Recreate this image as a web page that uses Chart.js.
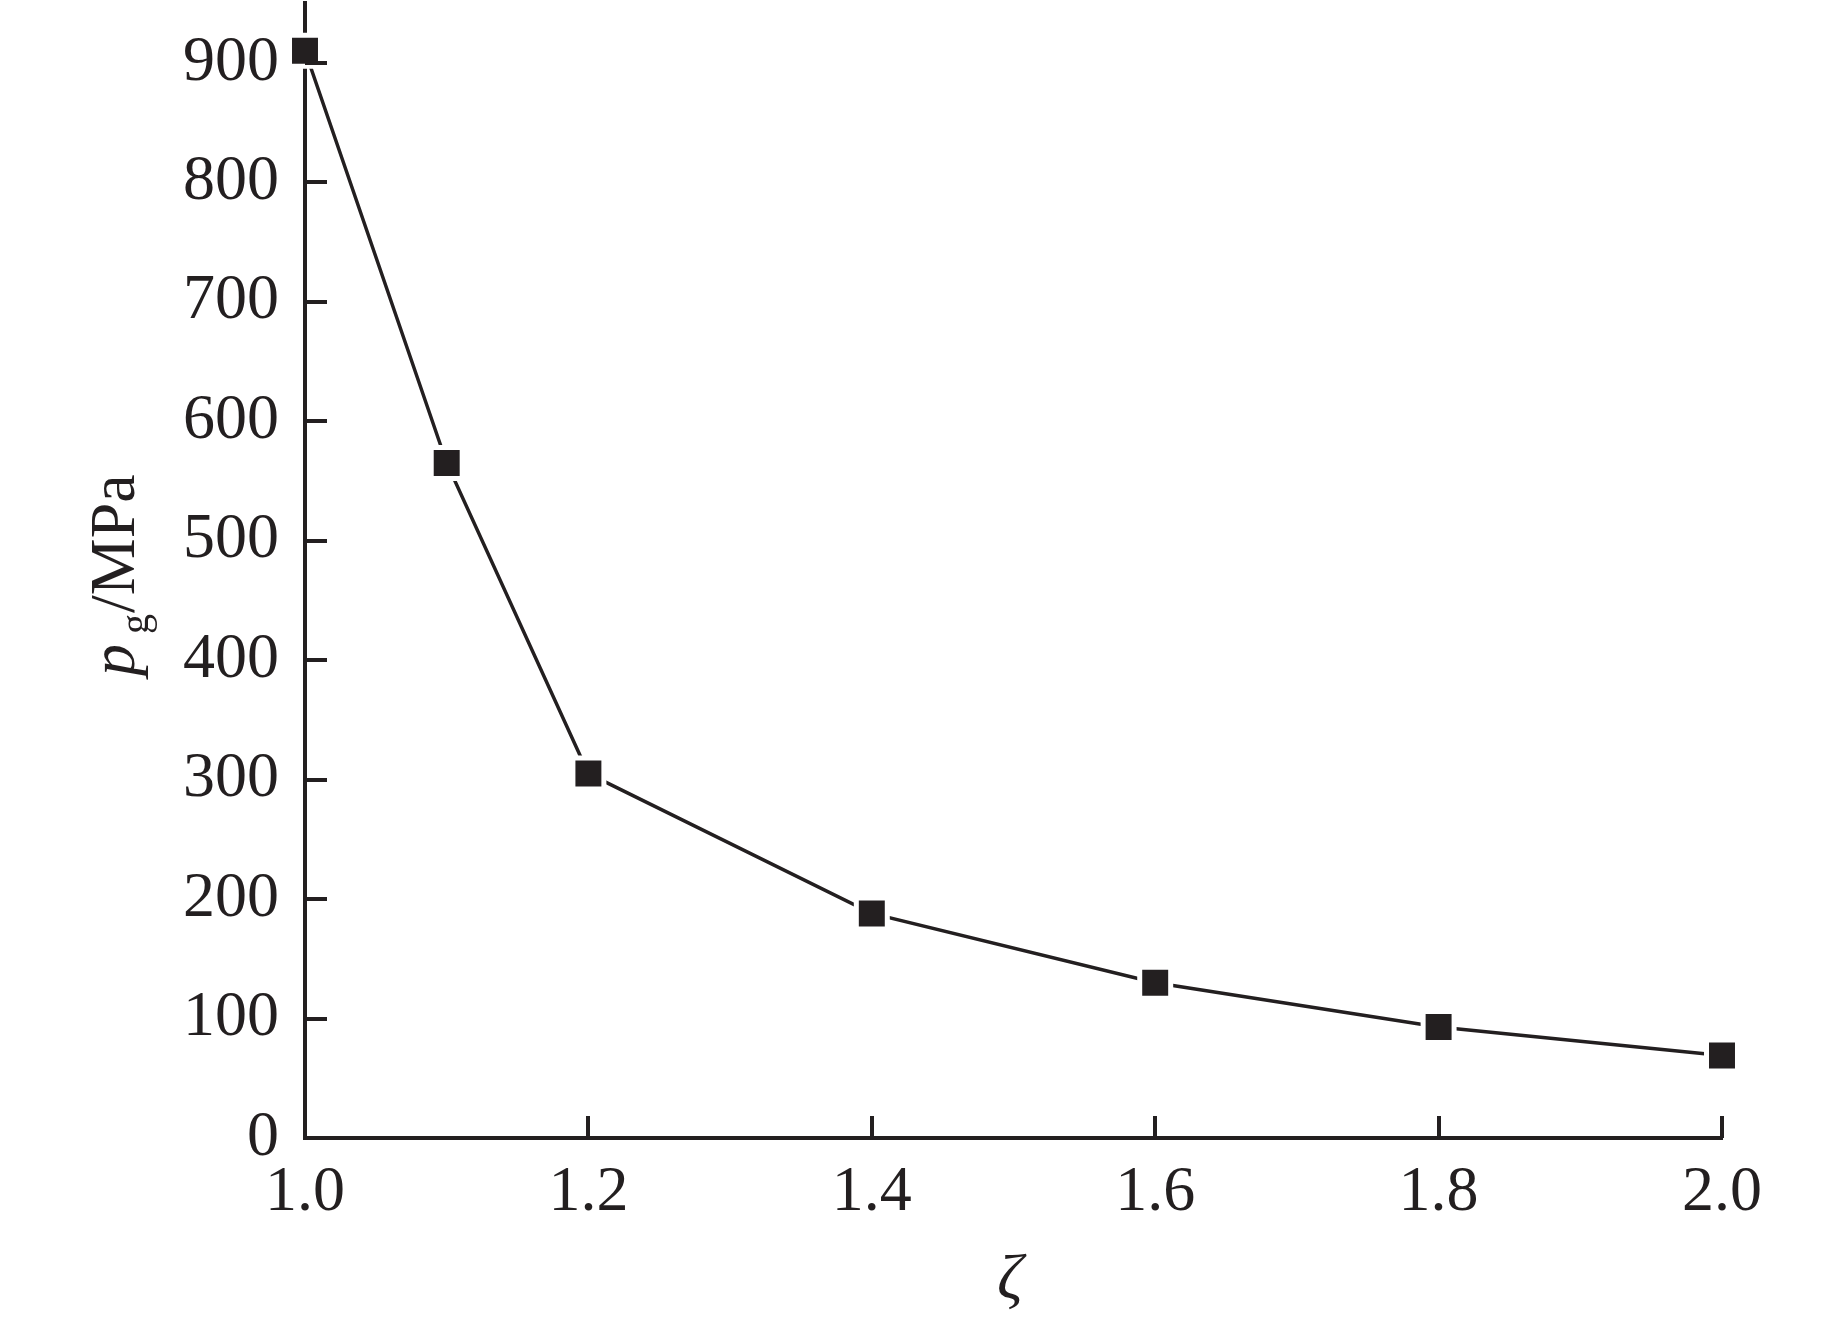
<!DOCTYPE html>
<html>
<head>
<meta charset="utf-8">
<style>
html,body{margin:0;padding:0;background:#fff;}
canvas{display:block;}
</style>
<script src="https://cdn.jsdelivr.net/npm/chart.js@4"></script>
</head>
<body>
<canvas id="c" width="1843" height="1330"></canvas>
<script>
const zeta = [1.0, 1.1, 1.2, 1.4, 1.6, 1.8, 2.0];
const pg = [910, 565, 305, 188, 130, 93, 69];
const xTickValues = [1.0, 1.2, 1.4, 1.6, 1.8, 2.0];
const yTickValues = [0, 100, 200, 300, 400, 500, 600, 700, 800, 900];

const INK = '#231f20';
const FONT = '"Liberation Serif", "Times New Roman", serif';

const inwardTicks = {
  id: 'inwardTicks',
  afterDraw(chart) {
    const ctx = chart.ctx;
    const xs = chart.scales.x, ys = chart.scales.y;
    const len = 22;
    ctx.save();
    ctx.strokeStyle = INK;
    ctx.lineWidth = 4;
    ctx.beginPath();
    yTickValues.forEach(v => {
      const py = Math.round(ys.getPixelForValue(v));
      ctx.moveTo(xs.left, py);
      ctx.lineTo(xs.left + len, py);
    });
    xTickValues.forEach(v => {
      const px = Math.round(xs.getPixelForValue(v));
      ctx.moveTo(px, ys.bottom);
      ctx.lineTo(px, ys.bottom - len);
    });
    ctx.stroke();

    ctx.fillStyle = INK;
    ctx.save();
    ctx.translate(134, 676);
    ctx.rotate(-Math.PI / 2);
    ctx.textBaseline = 'alphabetic';
    ctx.textAlign = 'left';
    ctx.font = 'italic 64px ' + FONT;
    ctx.fillText('p', 0, 0);
    let x = ctx.measureText('p').width + 10;
    ctx.font = '40px ' + FONT;
    ctx.fillText('g', x, 14);
    x += ctx.measureText('g').width + 1;
    ctx.font = '64px ' + FONT;
    ctx.fillText('/MPa', x, 0);
    ctx.restore();

    ctx.font = 'italic 64px ' + FONT;
    ctx.textAlign = 'center';
    ctx.textBaseline = 'alphabetic';
    ctx.fillText('\u03B6', 1010, 1298);
    ctx.restore();
  }
};

new Chart(document.getElementById('c'), {
  type: 'line',
  data: {
    datasets: [{
      data: zeta.map((z, i) => ({x: z, y: pg[i]})),
      borderColor: INK,
      borderWidth: 3.5,
      backgroundColor: INK,
      pointStyle: 'rect',
      pointRadius: 21.9,
      pointBackgroundColor: INK,
      pointBorderColor: '#ffffff',
      pointBorderWidth: 5,
      tension: 0,
      clip: false
    }]
  },
  options: {
    responsive: false,
    animation: false,
    devicePixelRatio: 1,
    layout: {autoPadding: false, padding: {top: 3, right: 121, left: 0, bottom: 0}},
    plugins: {legend: {display: false}, tooltip: {enabled: false}},
    scales: {
      x: {
        type: 'linear',
        min: 1.0,
        max: 2.0,
        afterFit(s) { s.height = 192; s.paddingLeft = 0; s.paddingRight = 0; s.paddingTop = 0; s.paddingBottom = 0; },
        afterBuildTicks(s) { s.ticks = xTickValues.map(v => ({value: v})); },
        grid: {display: false, drawTicks: false},
        border: {display: true, color: INK, width: 4},
        ticks: {
          padding: 17,
          color: INK,
          font: {family: FONT, size: 64},
          maxRotation: 0,
          autoSkip: false,
          callback: v => Number(v).toFixed(1)
        }
      },
      y: {
        type: 'linear',
        min: 0,
        max: 950,
        afterFit(s) { s.width = 305; s.paddingLeft = 0; s.paddingRight = 0; s.paddingTop = 0; s.paddingBottom = 0; },
        afterBuildTicks(s) { s.ticks = yTickValues.map(v => ({value: v})); },
        grid: {display: false, drawTicks: false},
        border: {display: true, color: INK, width: 4},
        ticks: {
          padding: 26,
          color: INK,
          font: {family: FONT, size: 64},
          autoSkip: false,
          callback: v => String(v)
        }
      }
    }
  },
  plugins: [inwardTicks]
});
</script>
</body>
</html>
